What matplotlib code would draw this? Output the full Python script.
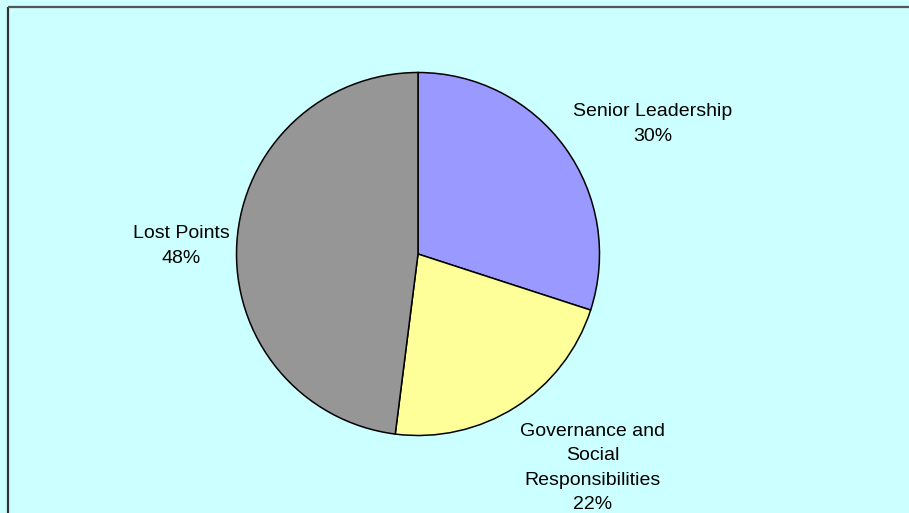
import matplotlib.pyplot as plt

plt.rcParams["font.family"] = ["Liberation Sans", "DejaVu Sans"]

# score breakdown
labels = ["Senior Leadership", "Governance and\nSocial\nResponsibilities", "Lost Points"]
shares = [30, 22, 48]
colors = ["#9999FF", "#FFFF99", "#969696"]

W, H = 909, 513
fig = plt.figure(figsize=(W / 100, H / 100), dpi=100)
fig.patch.set_facecolor("#CCFFFF")
ax = fig.add_axes([0, 0, 1, 1])
ax.set_facecolor("#CCFFFF")

cx, cy, r = 418, H - 254, 181.5
wedges, _ = ax.pie(shares, colors=colors, startangle=90, counterclock=False,
                   center=(cx, cy), radius=r, frame=True,
                   wedgeprops=dict(edgecolor="black", linewidth=1.1))

# label placement around the pie
label_pos = [(653, 124), (593, 468), (181, 246)]
for lab, val, (lx, ly) in zip(labels, shares, label_pos):
    ax.text(lx, H - ly, f"{lab}\n{val}%", ha="center", va="center",
            fontsize=14, linespacing=1.58, color="black")

ax.set_xlim(0, W)
ax.set_ylim(0, H)
ax.set_aspect("equal")
ax.set_xticks([])
ax.set_yticks([])
for s in ax.spines.values():
    s.set_visible(False)

# chart area border (left and top edges)
ax.plot([7.5, 7.5], [0, H - 6.5], color="#333333", lw=1.6, solid_capstyle="butt")
ax.plot([7.5, W], [H - 6.5, H - 6.5], color="#555555", lw=1.6, solid_capstyle="butt")

fig.savefig("out.png", dpi=100, facecolor=fig.get_facecolor())
plt.close(fig)
